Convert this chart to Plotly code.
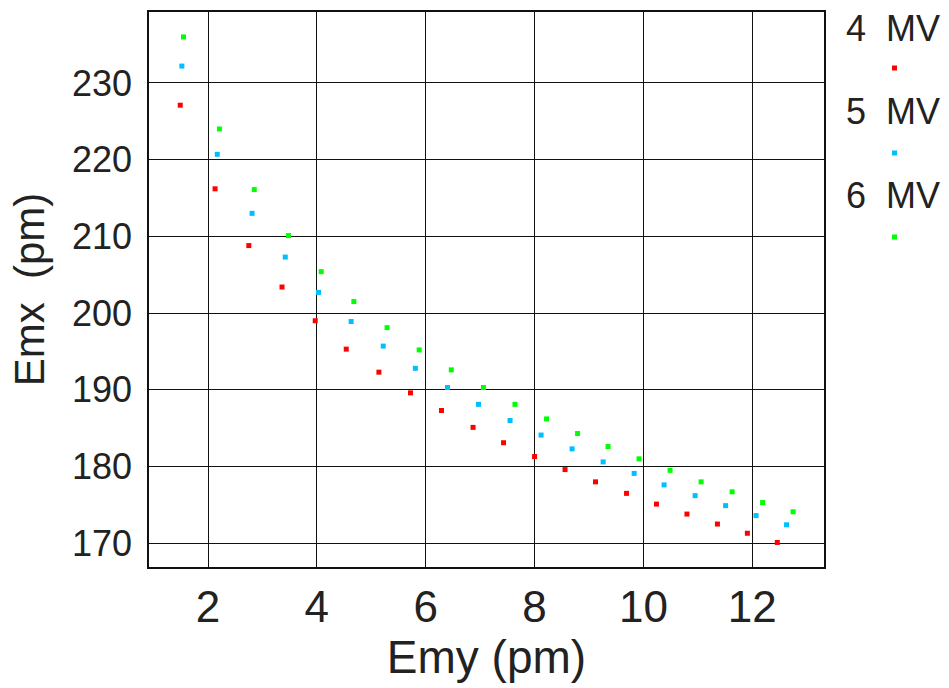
import plotly.graph_objects as go

# Emittance Emy (pm) vs Emx (pm) for three voltages
emy_4mv = [1.49, 2.13, 2.75, 3.36, 3.97, 4.54, 5.14, 5.72, 6.29, 6.87,
           7.43, 8.00, 8.56, 9.12, 9.69, 10.24, 10.80, 11.36, 11.91, 12.46]
emx_4mv = [227.1, 216.2, 208.8, 203.4, 199.0, 195.3, 192.3, 189.6, 187.3, 185.1,
           183.1, 181.3, 179.6, 178.0, 176.5, 175.1, 173.8, 172.5, 171.3, 170.1]

emy_5mv = [1.52, 2.17, 2.81, 3.42, 4.03, 4.63, 5.22, 5.81, 6.40, 6.97,
           7.55, 8.12, 8.69, 9.26, 9.83, 10.38, 10.95, 11.51, 12.07, 12.63]
emx_5mv = [232.2, 220.7, 213.0, 207.3, 202.7, 198.9, 195.7, 192.8, 190.3, 188.1,
           186.0, 184.1, 182.3, 180.6, 179.1, 177.6, 176.2, 174.9, 173.6, 172.4]

emy_6mv = [1.55, 2.21, 2.85, 3.48, 4.08, 4.68, 5.29, 5.88, 6.47, 7.06,
           7.64, 8.22, 8.79, 9.35, 9.92, 10.49, 11.06, 11.63, 12.19, 12.75]
emx_6mv = [236.0, 224.0, 216.1, 210.1, 205.4, 201.5, 198.1, 195.2, 192.6, 190.3,
           188.1, 186.2, 184.3, 182.6, 181.0, 179.5, 178.0, 176.7, 175.3, 174.1]

series_names = ["4 MV", "5 MV", "6 MV"]
series_colors = ["#ff0000", "#00bfff", "#00ff00"]
series_x = [emy_4mv, emy_5mv, emy_6mv]
series_y = [emx_4mv, emx_5mv, emx_6mv]

x_ticks = [2, 4, 6, 8, 10, 12]
y_ticks = [170, 180, 190, 200, 210, 220, 230]

TEXT = "#222222"
FONT = "Liberation Sans"

W, H = 949, 688
L, R, T, B = 149, 125, 12, 121
pw = W - L - R
ph = H - T - B


def px_to_paper(px, py):
    """Pixel position on the page -> paper fraction of the plot area."""
    return (px - L) / pw, 1 - (py - T) / ph


fig = go.Figure()
for name, col, xs, ys in zip(series_names, series_colors, series_x, series_y):
    fig.add_trace(go.Scatter(
        x=xs, y=ys, mode="markers", name=name,
        marker=dict(symbol="square", size=5, color=col, line=dict(width=0)),
        showlegend=False,
    ))

# Legend block on the right: label above, colour key below
legend_text_y = [28, 112, 196]
legend_key_y = [68, 153, 237]
for name, col, ty, ky in zip(series_names, series_colors, legend_text_y, legend_key_y):
    ax, ay = px_to_paper(893, ty)
    fig.add_annotation(
        x=ax, y=ay, xref="paper", yref="paper",
        text=name.replace(" ", "\u00a0\u00a0"), showarrow=False,
        xanchor="center", yanchor="middle",
        font=dict(family=FONT, size=36, color=TEXT),
    )
    x0, y0 = px_to_paper(892, ky + 2.5)
    x1, y1 = px_to_paper(897, ky - 2.5)
    fig.add_shape(
        type="rect", xref="paper", yref="paper",
        x0=x0, x1=x1, y0=y0, y1=y1,
        fillcolor=col, line=dict(width=0),
    )

fig.update_layout(
    width=W, height=H,
    margin=dict(l=L, r=R, t=T, b=B, autoexpand=False),
    paper_bgcolor="white", plot_bgcolor="white",
    showlegend=False,
)
fig.update_xaxes(
    range=[0.916, 13.318], tickvals=x_ticks,
    ticktext=[str(v) for v in x_ticks],
    showgrid=True, gridcolor="#111111", gridwidth=1,
    showline=True, linecolor="#111111", linewidth=1.5, mirror=True,
    ticks="", zeroline=False, automargin=False, ticklabelstandoff=0,
    tickfont=dict(family=FONT, size=44, color=TEXT),
    title=dict(text="Emy\u00a0(pm)", standoff=6,
               font=dict(family=FONT, size=46, color=TEXT)),
)
fig.update_yaxes(
    range=[166.9, 239.25], tickvals=y_ticks,
    ticktext=[str(v) for v in y_ticks],
    showgrid=True, gridcolor="#111111", gridwidth=1,
    showline=True, linecolor="#111111", linewidth=1.5, mirror=True,
    ticks="", zeroline=False, automargin=False, ticklabelstandoff=8,
    tickfont=dict(family=FONT, size=36, color=TEXT),
    title=dict(text="Emx\u00a0\u00a0(pm)", standoff=14,
               font=dict(family=FONT, size=42, color=TEXT)),
)

fig.write_html("out.html")
